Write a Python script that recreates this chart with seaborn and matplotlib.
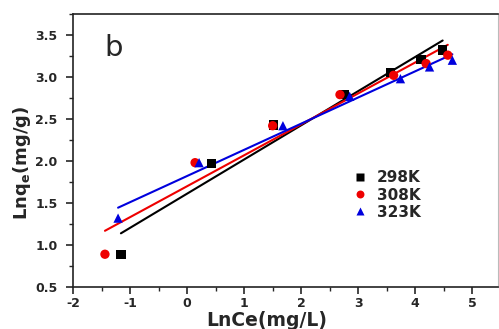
import numpy as np
import pandas as pd
import matplotlib
matplotlib.use("Agg")
import matplotlib.pyplot as plt
import seaborn as sns
from matplotlib.ticker import MultipleLocator

sns.set_theme(style="ticks")
plt.rcParams['font.family'] = ['DejaVu Sans']
plt.rcParams['axes.unicode_minus'] = False
plt.rcParams['mathtext.default'] = 'bf'

series = ["298K", "308K", "323K"]
x_298 = [-1.16, 0.43, 1.52, 2.75, 3.56, 4.10, 4.48]
y_298 = [0.89, 1.97, 2.43, 2.79, 3.05, 3.21, 3.32]
x_308 = [-1.44, 0.14, 1.50, 2.68, 3.62, 4.19, 4.57]
y_308 = [0.89, 1.98, 2.42, 2.79, 3.02, 3.16, 3.26]
x_323 = [-1.21, 0.21, 1.68, 2.85, 3.74, 4.25, 4.65]
y_323 = [1.32, 1.98, 2.42, 2.77, 2.98, 3.12, 3.20]

colors = {"298K": "#000000", "308K": "#ee0000", "323K": "#0000dd"}
markers = {"298K": "s", "308K": "o", "323K": "^"}

df = pd.concat([
    pd.DataFrame({"x": x_298, "y": y_298, "T": "298K"}),
    pd.DataFrame({"x": x_308, "y": y_308, "T": "308K"}),
    pd.DataFrame({"x": x_323, "y": y_323, "T": "323K"}),
], ignore_index=True)

fig = plt.figure(figsize=(4.99, 3.29), dpi=100)
ax = fig.add_axes([73/499, 42/329, 425/499, 273/329])

for t in series:
    sub = df[df["T"] == t]
    sns.regplot(data=sub, x="x", y="y", ax=ax, scatter=False, ci=None,
                color=colors[t], line_kws={"lw": 1.5}, truncate=True)

sns.scatterplot(data=df, x="x", y="y", hue="T", style="T", palette=colors,
                markers=markers, s=45, edgecolor="none", ax=ax, zorder=3)

ax.set_xlim(-2, 5.45)
ax.set_ylim(0.5, 3.75)
ax.xaxis.set_major_locator(MultipleLocator(1))
ax.xaxis.set_minor_locator(MultipleLocator(0.5))
ax.yaxis.set_major_locator(MultipleLocator(0.5))
ax.yaxis.set_minor_locator(MultipleLocator(0.25))
ax.tick_params(which="major", direction="out", length=5, width=1.2, labelsize=9)
ax.tick_params(axis="x", which="major", pad=2)
ax.tick_params(axis="y", which="major", pad=6)
ax.tick_params(which="minor", direction="out", length=3, width=1)
ax.tick_params(top=False, right=False, which="both")
for lab in ax.get_xticklabels() + ax.get_yticklabels():
    lab.set_fontweight("bold")
for side in ["left", "bottom", "top"]:
    ax.spines[side].set_linewidth(1.2)
    ax.spines[side].set_color("#222222")
ax.spines["right"].set_linewidth(0.8)
ax.spines["right"].set_color("#bbbbbb")

ax.set_xlabel("LnCe(mg/L)", fontsize=13.5, fontweight="bold")
ax.set_ylabel("Lnq$_\\mathbf{e}$(mg/g)", fontsize=13, fontweight="bold")
ax.xaxis.set_label_coords((266.5 - 73) / 425, (287 - 311) / 273)
ax.yaxis.set_label_coords((33 - 73) / 425, (287 - 163) / 273)

ax.text(-1.45, 3.35, "b", fontsize=21, ha="left", va="center")

leg = ax.legend(loc="center left", bbox_to_anchor=(343/499, 1 - 195/329),
                bbox_transform=fig.transFigure, frameon=False,
                prop={"weight": "bold", "size": 11}, handletextpad=0.5,
                labelspacing=0.15, borderpad=0, markerscale=0.85,
                handlelength=1.2)

fig.savefig("out.png", dpi=100)
